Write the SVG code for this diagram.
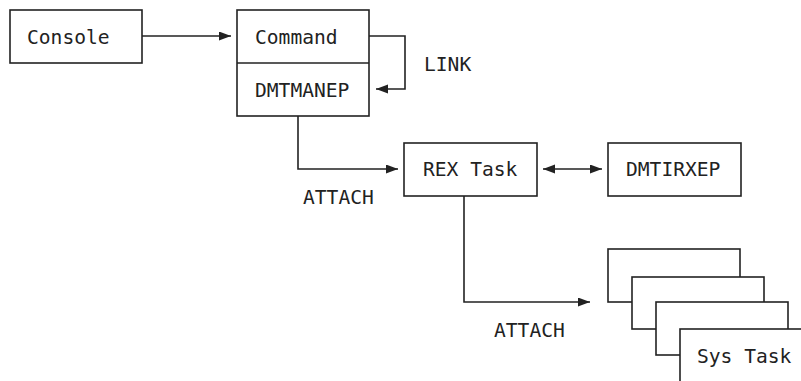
<svg xmlns="http://www.w3.org/2000/svg" width="801" height="381" viewBox="0 0 801 381">
<defs>
<style>
.box{fill:#fff;stroke:#222;stroke-width:1.6}
.ln{fill:none;stroke:#222;stroke-width:1.6}
.t{font-family:"DejaVu Sans Mono","Liberation Mono",monospace;font-size:19.6px;fill:#222}
</style>
<marker id="ah" markerUnits="userSpaceOnUse" markerWidth="14" markerHeight="10" refX="12" refY="4.5" orient="auto-start-reverse">
<path d="M0,0 L12,4.5 L0,9 z" fill="#222"/>
</marker>
</defs>
<rect width="801" height="381" fill="#fff"/>
<g id="console">
<rect class="box" x="10" y="10" width="132" height="53"/>
<text class="t" x="27" y="44">Console</text>
</g>
<g id="command">
<rect class="box" x="237" y="10" width="132" height="106"/>
<line class="ln" x1="237" y1="63" x2="369" y2="63"/>
<text class="t" x="255" y="44">Command</text>
<text class="t" x="255" y="97">DMTMANEP</text>
</g>
<g id="rex-task">
<rect class="box" x="404" y="143" width="133" height="53"/>
<text class="t" x="423" y="176">REX Task</text>
</g>
<g id="dmtirxep">
<rect class="box" x="608" y="143" width="133" height="53"/>
<text class="t" x="626" y="176">DMTIRXEP</text>
</g>
<g id="sys-task">
<rect class="box" x="608" y="249" width="132" height="53"/>
<rect class="box" x="632" y="277" width="132" height="52"/>
<rect class="box" x="656" y="302" width="132" height="53"/>
<rect class="box" x="680" y="329" width="132" height="60"/>
<text class="t" x="697" y="363">Sys Task</text>
</g>
<g id="connectors">
<path class="ln" d="M142,36 H231" marker-end="url(#ah)"/>
<path class="ln" d="M369,36 H405 V89 H376" marker-end="url(#ah)"/>
<path class="ln" d="M298,116 V169 H398" marker-end="url(#ah)"/>
<path class="ln" d="M543,169 H602" marker-start="url(#ah)" marker-end="url(#ah)"/>
<path class="ln" d="M464,196 V302 H590" marker-end="url(#ah)"/>
<text class="t" x="424" y="71">LINK</text>
<text class="t" x="303" y="204">ATTACH</text>
<text class="t" x="494" y="337">ATTACH</text>
</g>
</svg>
